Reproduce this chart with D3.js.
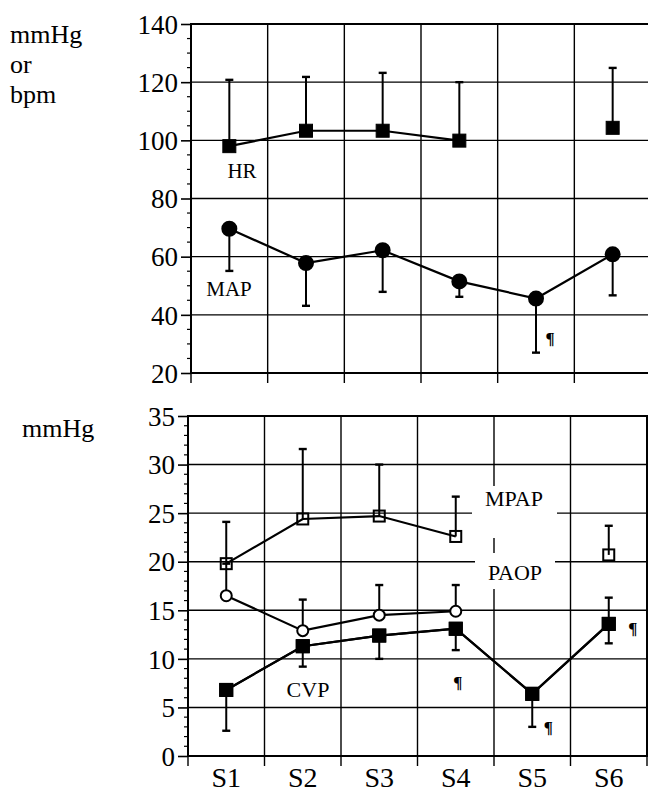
<!DOCTYPE html>
<html>
<head>
<meta charset="utf-8">
<script src="https://cdn.jsdelivr.net/npm/d3@7"></script>
<style>
  body { margin: 0; background: #fff; }
  svg text { font-family: "Liberation Serif", "Times New Roman", serif; fill: #000; }
</style>
</head>
<body>
<svg id="chart" width="648" height="792"></svg>
<script>
// categories (stages)
const categories = ["S1", "S2", "S3", "S4", "S5", "S6"];

// top panel: HR (bpm) and MAP (mmHg), mean and SD
const hrMean  = [98.0, 103.3, 103.3, 99.9, null, 104.3];
const hrSD    = [22.8, 18.5, 19.9, 20.1, null, 20.6];
const mapMean = [69.6, 57.8, 62.2, 51.5, 45.6, 60.8];
const mapSD   = [14.5, 14.7, 14.3, 5.3, 18.6, 14.1];

// bottom panel: MPAP, PAOP, CVP (mmHg)
const mpapMean = [19.8, 24.4, 24.7, 22.6, null, 20.7];
const mpapSD   = [4.3, 7.2, 5.3, 4.1, null, 3.0];
const paopMean = [16.5, 12.9, 14.5, 14.9, null, null];
const paopSD   = [3.3, 3.2, 3.1, 2.7, null, null];
const cvpMean  = [6.8, 11.3, 12.4, 13.1, 6.4, 13.6];
const cvpSD    = [4.2, 2.1, 2.4, 2.2, 3.4, 2.0];
const cvpUpSD  = [null, null, null, null, null, 2.7];

// tick values
const topTicks = [20, 40, 60, 80, 100, 120, 140];
const botTicks = [0, 5, 10, 15, 20, 25, 30, 35];

// significance marks (¶) : category, value
const sigTop = [{ cat: "S5", v: 32, dx: 14 }];
const sigBot = [{ cat: "S4", v: 7.6, dx: 2 }, { cat: "S5", v: 3.0, dx: 16 }, { cat: "S6", v: 13.2, dx: 24 }];

const FONT = '"Liberation Serif", "Times New Roman", serif';
const svg = d3.select("#chart");

function panel(opt) {
  const g = svg.append("g");
  const x = d3.scaleBand().domain(categories).range(opt.xr).padding(0);
  const y = d3.scaleLinear().domain(opt.yd).range(opt.yr);
  const cx = c => x(c) + x.bandwidth() / 2;
  const x0 = opt.xr[0], x1 = opt.xr[1];

  // horizontal grid
  g.selectAll(".hg").data(opt.ticks).join("line")
    .attr("x1", x0).attr("x2", x1)
    .attr("y1", d => y(d)).attr("y2", d => y(d))
    .attr("stroke", "#000").attr("stroke-width", 1.4);

  // vertical grid + ticks below
  const edges = categories.map(c => x(c)).concat([x1]);
  g.selectAll(".vg").data(edges).join("line")
    .attr("x1", d => d).attr("x2", d => d)
    .attr("y1", opt.yr[1]).attr("y2", opt.yr[0] + 10)
    .attr("stroke", "#000").attr("stroke-width", 1.4);

  // frame
  g.append("rect")
    .attr("x", x0).attr("y", opt.yr[1])
    .attr("width", x1 - x0).attr("height", opt.yr[0] - opt.yr[1])
    .attr("fill", "none").attr("stroke", "#000").attr("stroke-width", 2);

  // white boxes behind labels that interrupt grid
  (opt.boxes || []).forEach(b => {
    g.append("rect").attr("x", b[0]).attr("y", b[1]).attr("width", b[2]).attr("height", b[3]).attr("fill", "#fff");
  });

  // y axis, major
  const ax = g.append("g").attr("transform", `translate(${x0},0)`)
    .call(d3.axisLeft(y).tickValues(opt.ticks).tickSize(10).tickPadding(3));
  ax.attr("font-family", null).attr("font-size", null);
  ax.select(".domain").remove();
  ax.selectAll("line").attr("stroke-width", 1.6);
  ax.selectAll("text").style("font-family", FONT).style("font-size", "27px").attr("dy", "0.34em");

  // minor ticks
  const minor = d3.range(opt.yd[0], opt.yd[1] + 0.001, opt.minor).filter(v => opt.ticks.indexOf(v) < 0);
  g.selectAll(".mt").data(minor).join("line")
    .attr("x1", x0 - 4).attr("x2", x0 + 1)
    .attr("y1", d => y(d)).attr("y2", d => y(d))
    .attr("stroke", "#000").attr("stroke-width", 1.2);

  return { g, x, y, cx };
}

function series(p, mean, sd, dir, marker) {
  const pts = categories.map((c, i) => ({ c, v: mean[i], s: sd[i] }));
  // line (breaks where a value is missing)
  p.g.append("path")
    .datum(pts)
    .attr("d", d3.line().defined(d => d.v != null).x(d => p.cx(d.c)).y(d => p.y(d.v)))
    .attr("fill", "none").attr("stroke", "#000").attr("stroke-width", 2.2);
  // error bars
  const eb = pts.filter(d => d.v != null && d.s != null);
  const end = d => p.y(dir === "up" ? d.v + d.s : d.v - d.s);
  p.g.selectAll(null).data(eb).join("line")
    .attr("x1", d => p.cx(d.c)).attr("x2", d => p.cx(d.c))
    .attr("y1", d => p.y(d.v)).attr("y2", end)
    .attr("stroke", "#000").attr("stroke-width", 2);
  p.g.selectAll(null).data(eb).join("line")
    .attr("x1", d => p.cx(d.c) - 4).attr("x2", d => p.cx(d.c) + 4)
    .attr("y1", end).attr("y2", end)
    .attr("stroke", "#000").attr("stroke-width", 2.4);
  // markers
  const m = pts.filter(d => d.v != null);
  if (marker === "fsquare" || marker === "osquare") {
    const s = marker === "fsquare" ? 13 : 11;
    p.g.selectAll(null).data(m).join("rect")
      .attr("x", d => p.cx(d.c) - s / 2).attr("y", d => p.y(d.v) - s / 2)
      .attr("width", s).attr("height", s)
      .attr("fill", marker === "fsquare" ? "#000" : "none")
      .attr("stroke", "#000").attr("stroke-width", marker === "fsquare" ? 1 : 2);
  } else {
    const r = marker === "fcircle" ? 7 : 5.5;
    p.g.selectAll(null).data(m).join("circle")
      .attr("cx", d => p.cx(d.c)).attr("cy", d => p.y(d.v)).attr("r", r)
      .attr("fill", marker === "fcircle" ? "#000" : "#fff")
      .attr("stroke", "#000").attr("stroke-width", 2);
  }
}

function label(p, text, x, y, size, bold) {
  p.g.append("text").attr("x", x).attr("y", y).attr("text-anchor", "middle")
    .style("font-family", FONT).style("font-size", size + "px")
    .style("font-weight", bold ? "bold" : "normal").text(text);
}

// ---------- top panel ----------
const topP = panel({ xr: [191, 651], yr: [373, 24], yd: [20, 140], ticks: topTicks, minor: 5 });
series(topP, hrMean, hrSD, "up", "fsquare");
series(topP, mapMean, mapSD, "down", "fcircle");
label(topP, "HR", 242, 178, 21);
label(topP, "MAP", 229, 296, 21);
sigTop.forEach(s => label(topP, "¶", topP.cx(s.cat) + s.dx, topP.y(s.v) + 6, 17, true));

// ---------- bottom panel ----------
const botP = panel({
  xr: [188, 647], yr: [756, 416], yd: [0, 35], ticks: botTicks, minor: 1,
  boxes: [[472, 486, 85, 52], [475, 553, 80, 36]]
});
series(botP, mpapMean, mpapSD, "up", "osquare");
series(botP, cvpMean, cvpSD, "down", "fsquare");
series(botP, cvpMean, cvpUpSD, "up", "fsquare");
series(botP, paopMean, paopSD, "up", "ocircle");
label(botP, "MPAP", 514, 506, 22);
label(botP, "PAOP", 515, 580, 22);
label(botP, "CVP", 308, 697, 22);
sigBot.forEach(s => label(botP, "¶", botP.cx(s.cat) + s.dx, botP.y(s.v) + 6, 17, true));

// category labels
botP.g.selectAll(".cat").data(categories).join("text")
  .attr("x", d => botP.cx(d)).attr("y", 787)
  .attr("text-anchor", "middle").style("font-family", FONT).style("font-size", "28px").text(d => d);

// unit labels
const units = [["mmHg", 10, 43], ["or", 10, 73], ["bpm", 10, 103], ["mmHg", 22, 437]];
svg.selectAll(".unit").data(units).join("text")
  .attr("x", d => d[1]).attr("y", d => d[2])
  .style("font-family", FONT).style("font-size", "26px").text(d => d[0]);
</script>
</body>
</html>
